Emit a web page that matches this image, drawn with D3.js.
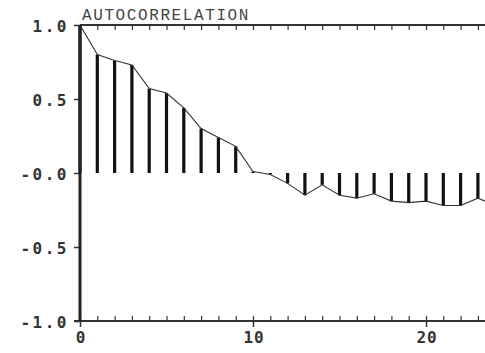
<!DOCTYPE html>
<html>
<head>
<meta charset="utf-8">
<script src="https://cdn.jsdelivr.net/npm/d3@7"></script>
<style>
  body { margin: 0; background: #fff; }
  svg { display: block; }
</style>
</head>
<body>
<script>
var width = 485
var height = 353

// autocorrelation by lag
var lags = d3.range(0, 25)
var acf = [1.0, 0.80, 0.76, 0.73, 0.57, 0.54, 0.44, 0.30, 0.24, 0.18,
           0.01, -0.01, -0.07, -0.15, -0.08, -0.15, -0.17, -0.14, -0.19, -0.20,
           -0.19, -0.22, -0.22, -0.17, -0.22]
var yTicks = [1.0, 0.5, 0.0, -0.5, -1.0]
var yTickLabels = ['1.0', '0.5', '-0.0', '-0.5', '-1.0']
var xTicks = [0, 10, 20]

var data = lags.map((l, i) => ({ lag: l, r: acf[i] }))

var x = d3.scaleLinear().domain([0, 23.41]).range([80, 485])
var y = d3.scaleLinear().domain([-1, 1]).range([321, 25])

var svg = d3.select('body').append('svg').attr('width', width).attr('height', height)

// bars
svg.append('g').selectAll('line').data(data).enter().append('line')
  .attr('x1', d => x(d.lag)).attr('x2', d => x(d.lag))
  .attr('y1', y(0)).attr('y2', d => y(d.r))
  .attr('stroke', '#111').attr('stroke-width', 3.2)

// connecting line
svg.append('path').datum(data)
  .attr('d', d3.line().x(d => x(d.lag)).y(d => y(d.r)))
  .attr('fill', 'none').attr('stroke', '#333').attr('stroke-width', 1.1)

var tickFont = g => g.selectAll('text')
  .attr('font-family', 'DejaVu Sans Mono').attr('font-weight', 'bold')
  .attr('font-size', 16).attr('fill', '#333').attr('letter-spacing', 2.5)

// top axis: minor ticks down at every lag
var topAx = svg.append('g').attr('transform', `translate(0,${y(1)})`)
  .call(d3.axisBottom(x).tickValues(d3.range(0, 24)).tickSize(5).tickFormat(''))
topAx.select('.domain').remove()
topAx.selectAll('line').attr('stroke', '#333').attr('stroke-width', 1.2)

// bottom axis: minor ticks up, major ticks crossing
var botAx = svg.append('g').attr('transform', `translate(0,${y(-1)})`)
  .call(d3.axisTop(x).tickValues(d3.range(0, 24)).tickSize(5).tickFormat(''))
botAx.select('.domain').remove()
botAx.selectAll('line').attr('stroke', '#333').attr('stroke-width', 1.2)

var botLab = svg.append('g').attr('transform', `translate(0,${y(-1)})`)
  .call(d3.axisBottom(x).tickValues(xTicks).tickSize(6).tickPadding(5).tickFormat(d3.format('d')))
botLab.select('.domain').remove()
botLab.selectAll('line').attr('stroke', '#333').attr('stroke-width', 1.5)
botLab.call(tickFont)
botLab.selectAll('text').attr('letter-spacing', 1).attr('dx', 0.5)

// left axis
var leftAx = svg.append('g').attr('transform', `translate(${x(0)},0)`)
  .call(d3.axisLeft(y).tickValues(yTicks).tickSize(6).tickPadding(5)
    .tickFormat((d, i) => yTickLabels[i]))
leftAx.select('.domain').remove()
leftAx.selectAll('line').attr('stroke', '#333').attr('stroke-width', 1.5)
leftAx.call(tickFont)
leftAx.selectAll('text').attr('dy', '0.4em')

// frame lines
svg.append('line').attr('x1', x(0)).attr('x2', width).attr('y1', y(1)).attr('y2', y(1))
  .attr('stroke', '#333').attr('stroke-width', 2.2)
svg.append('line').attr('x1', x(0) - 6).attr('x2', width).attr('y1', y(-1)).attr('y2', y(-1))
  .attr('stroke', '#333').attr('stroke-width', 2.2)
svg.append('line').attr('x1', x(0)).attr('x2', x(0)).attr('y1', y(1)).attr('y2', y(-1))
  .attr('stroke', '#222').attr('stroke-width', 3)

// title
svg.append('text').attr('x', x(0) + 2).attr('y', 20)
  .attr('font-family', 'Liberation Mono').attr('font-size', 16)
  .attr('letter-spacing', 1.6).attr('fill', '#444')
  .text('AUTOCORRELATION')
</script>
</body>
</html>
